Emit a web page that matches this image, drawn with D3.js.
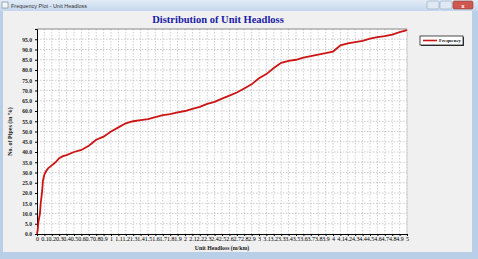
<!DOCTYPE html>
<html>
<head>
<meta charset="utf-8">
<script src="https://cdn.jsdelivr.net/npm/d3@7"></script>
<style>
  html, body { margin: 0; padding: 0; background: #f0f0f0; }
  svg { display: block; }
  text { font-family: "Liberation Serif", "Times New Roman", serif; }
</style>
</head>
<body>
<div id="chart"></div>
<script>
// cumulative distribution: headloss (m/km) vs % of pipes
const headloss = [0, 0.01, 0.02, 0.04, 0.05, 0.07, 0.08, 0.1, 0.12, 0.15, 0.2, 0.25, 0.3, 0.35, 0.4,
  0.5, 0.6, 0.7, 0.75, 0.8, 0.9, 1.0, 1.1, 1.2, 1.3, 1.4, 1.5, 1.6, 1.7, 1.8, 1.9, 2.0,
  2.1, 2.2, 2.3, 2.4, 2.5, 2.6, 2.7, 2.8, 2.9, 3.0, 3.1, 3.2, 3.3, 3.4, 3.5, 3.6, 3.7,
  3.8, 3.9, 4.0, 4.05, 4.1, 4.2, 4.3, 4.4, 4.5, 4.6, 4.7, 4.8, 4.9, 5.0];
const pctPipes = [0, 2, 6, 10, 15, 21, 26, 29, 30.5, 32, 33.5, 35, 37, 38, 38.5,
  40, 41, 43, 44.5, 46, 47.5, 50, 52, 54, 55, 55.5, 56, 57, 58, 58.5, 59.3, 60,
  61, 62, 63.5, 64.5, 66, 67.5, 69, 71, 73, 76, 78, 81, 83.5, 84.5, 85, 86, 86.8,
  87.5, 88.2, 89, 90.5, 92, 93, 93.6, 94.2, 95.3, 96, 96.5, 97.3, 98.5, 99.5];
const xTicks = d3.range(0, 51).map(i => i / 10);
const yTicks = d3.range(0, 100, 5);

const W = 478, H = 259;
const svg = d3.select('#chart').append('svg').attr('width', W).attr('height', H);

// window chrome
svg.append('rect').attr('x', 0).attr('y', 0).attr('width', W).attr('height', H).attr('fill', '#b9cfe8');
const grad = svg.append('defs').append('linearGradient').attr('id', 'tb').attr('x1', 0).attr('y1', 0).attr('x2', 0).attr('y2', 1);
grad.append('stop').attr('offset', 0).attr('stop-color', '#e3ecf7');
grad.append('stop').attr('offset', 1).attr('stop-color', '#c5d7ed');
svg.append('rect').attr('x', 0).attr('y', 0).attr('width', W).attr('height', 11).attr('fill', 'url(#tb)');
svg.append('rect').attr('x', 3).attr('y', 11).attr('width', W - 9).attr('height', H - 18).attr('fill', '#f0f0f0');
svg.append('rect').attr('x', 2).attr('y', 2).attr('width', 6).attr('height', 6).attr('fill', '#f5f5f5').attr('stroke', '#6a7f99').attr('stroke-width', 0.6);
svg.append('text').attr('x', 11).attr('y', 7.5).attr('font-size', 5.5).attr('fill', '#333')
  .style('font-family', 'Liberation Sans, Arial, sans-serif').text('Frequency Plot - Unit Headloss');
[427, 440].forEach(bx => {
  svg.append('rect').attr('x', bx).attr('y', 1).attr('width', 12).attr('height', 8).attr('rx', 1.5)
    .attr('fill', '#dfe8f3').attr('stroke', '#8ea4bf').attr('stroke-width', 0.6);
});
svg.append('rect').attr('x', 453).attr('y', 1).attr('width', 20).attr('height', 8).attr('rx', 1.5)
  .attr('fill', '#d0574f').attr('stroke', '#8a3b36').attr('stroke-width', 0.6);
svg.append('text').attr('x', 463).attr('y', 7.5).attr('text-anchor', 'middle').attr('font-size', 6)
  .attr('fill', '#fff').attr('font-weight', 'bold').style('font-family', 'Liberation Sans, Arial, sans-serif').text('x');

// plot
const pLeft = 37, pRight = 407, pTop = 29, pBottom = 234;
const x = d3.scaleLinear().domain([0, 5]).range([pLeft, pRight]);
const y = d3.scaleLinear().domain([0, 100]).range([pBottom, pTop]);

svg.append('rect').attr('x', pLeft).attr('y', pTop).attr('width', pRight - pLeft).attr('height', pBottom - pTop)
  .attr('fill', '#fff');

// grid
svg.append('g').selectAll('line').data(xTicks.slice(1)).join('line')
  .attr('x1', d => x(d)).attr('x2', d => x(d)).attr('y1', pTop).attr('y2', pBottom)
  .attr('stroke', '#b8b8b8').attr('stroke-width', 0.7).attr('stroke-dasharray', '1.5,1.5');
svg.append('g').selectAll('line').data(yTicks.slice(1)).join('line')
  .attr('x1', pLeft).attr('x2', pRight).attr('y1', d => y(d)).attr('y2', d => y(d))
  .attr('stroke', '#b8b8b8').attr('stroke-width', 0.7).attr('stroke-dasharray', '1.5,1.5');

svg.append('line').attr('x1', pLeft).attr('x2', pRight).attr('y1', pTop).attr('y2', pTop)
  .attr('stroke', '#888').attr('stroke-width', 1);
svg.append('line').attr('x1', pRight).attr('x2', pRight).attr('y1', pTop).attr('y2', pBottom)
  .attr('stroke', '#ccc').attr('stroke-width', 0.8);

// axes
const xAxis = d3.axisBottom(x).tickValues(xTicks).tickSize(2).tickPadding(1)
  .tickFormat(d => String(+d.toFixed(1)));
const gx = svg.append('g').attr('transform', `translate(0,${pBottom})`).call(xAxis);
gx.selectAll('text').attr('font-size', 6).attr('fill', '#000').attr('dy', '0.7em')
  .style('font-family', 'Liberation Serif, serif');
gx.select('.domain').attr('stroke', '#000');

const yAxis = d3.axisLeft(y).tickValues(yTicks).tickSize(2).tickFormat(d3.format('.1f'));
const gy = svg.append('g').attr('transform', `translate(${pLeft},0)`).call(yAxis);
gy.selectAll('text').attr('font-size', 5.6).attr('font-weight', 'bold').attr('fill', '#222')
  .style('font-family', 'Liberation Serif, serif');
gy.select('.domain').attr('stroke', '#000');

// curve
const data = headloss.map((h, i) => [h, pctPipes[i]]);
svg.append('path').datum(data)
  .attr('fill', 'none').attr('stroke', '#cc1414').attr('stroke-width', 1.8)
  .attr('d', d3.line().x(d => x(d[0])).y(d => y(d[1])));

// titles
svg.append('text').attr('x', 218).attr('y', 23).attr('text-anchor', 'middle')
  .attr('font-size', 10.5).attr('font-weight', 'bold').attr('fill', '#1a1aa6').text('Distribution of Unit Headloss');
svg.append('text').attr('x', 222).attr('y', 250).attr('text-anchor', 'middle')
  .attr('font-size', 5.8).attr('font-weight', 'bold').attr('fill', '#222').text('Unit Headloss (m/km)');
svg.append('text').attr('transform', `translate(12,${(pTop + pBottom) / 2}) rotate(-90)`).attr('text-anchor', 'middle')
  .attr('font-size', 6).attr('font-weight', 'bold').attr('fill', '#222').text('No. of Pipes (in %)');

// legend
const lg = svg.append('g').attr('transform', 'translate(420,36)');
lg.append('rect').attr('x', 1).attr('y', 1).attr('width', 43).attr('height', 9).attr('fill', '#333');
lg.append('rect').attr('width', 43).attr('height', 9).attr('fill', '#fff').attr('stroke', '#222').attr('stroke-width', 0.8);
lg.append('line').attr('x1', 3).attr('x2', 17).attr('y1', 4.5).attr('y2', 4.5).attr('stroke', '#cc1414').attr('stroke-width', 1.6);
lg.append('text').attr('x', 19).attr('y', 6.4).attr('font-size', 5).attr('font-weight', 'bold').attr('fill', '#111')
  .attr('textLength', 22).attr('lengthAdjust', 'spacingAndGlyphs').text('Frequency');
</script>
</body>
</html>
